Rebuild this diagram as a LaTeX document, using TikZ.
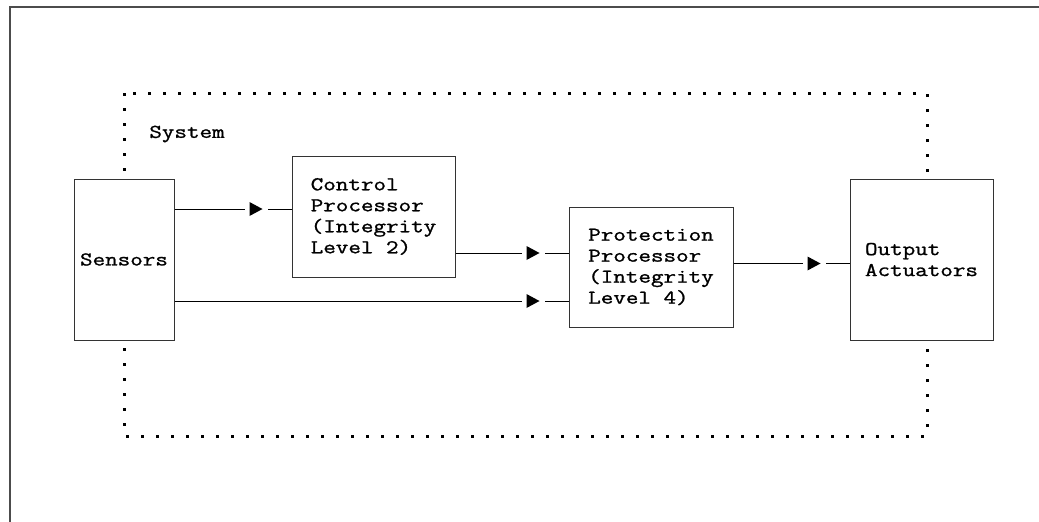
\documentclass[tikz,border=0pt]{standalone}
\usepackage{fontspec}
\setmonofont[FakeStretch=1.25,FakeBold=1.2]{Latin Modern Mono}
\usetikzlibrary{positioning,decorations.markings}
\tikzset{
unitbox/.style={
  draw=black!80,
  fill=white,
  line width=1pt,
  inner sep=0pt,
  align=left,
  font=\ttfamily\fontsize{19.5}{21}\selectfont
  },
sysline/.style={
  line width=3pt,
  dash pattern=on 3pt off 12pt
  },
flow/.style={
  line width=1pt,
  decoration={markings,
    mark=at position -29pt with {
      \fill[white] (-18pt,-2pt) rectangle (5pt,2pt);
      \fill[black] (-13pt,-7pt) -- (0pt,0pt) -- (-13pt,7pt) -- cycle;}},
  postaction={decorate}
  }
}

\begin{document}
\begin{tikzpicture}[x=1pt,y=-1pt]
\useasboundingbox (0,0) rectangle (1039,522);
\draw[black!70,line width=1.5pt] (10,522) -- (10,7) -- (1039,7);
\draw[sysline] (124,93) rectangle (927,436);
\node[font=\ttfamily\fontsize{19.5}{21}\selectfont] (sys) at (187,134) {System};

\node[unitbox,minimum width=100pt,minimum height=161pt] (sens) at (124,259.5) {Sensors};
\node[unitbox,minimum width=163pt,minimum height=121pt] (ctrl) at (373.5,216.5)
  {Control\\Processor\\(Integrity\\Level 2)};
\node[unitbox,minimum width=164pt,minimum height=120pt] (prot) at (651,267)
  {Protection\\Processor\\(Integrity\\Level 4)};
\node[unitbox,minimum width=143pt,minimum height=161pt,text depth=-10pt] (outp) at (921.5,259.5)
  {Output\\Actuators};

\coordinate (in1) at ([yshift=7.5pt]ctrl.west);
\coordinate (in2) at ([yshift=14pt]prot.west);
\coordinate (in3) at ([yshift=-34pt]prot.west);
\coordinate (in4) at ([yshift=-4pt]outp.west);

\draw[flow] (sens.east |- in1) -- (in1);
\draw[flow] (ctrl.east |- in2) -- (in2);
\draw[flow] (sens.east |- in3) -- (in3);
\draw[flow] (prot.east |- in4) -- (in4);
\end{tikzpicture}
\end{document}
